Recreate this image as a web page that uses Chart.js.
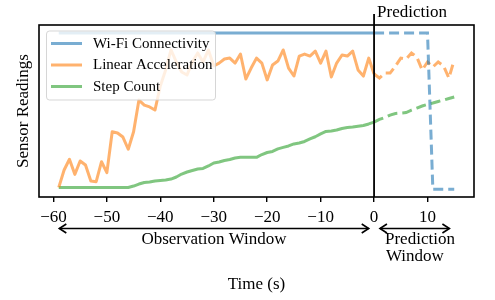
<!DOCTYPE html>
<html><head><meta charset="utf-8">
<script src="https://cdn.jsdelivr.net/npm/chart.js@4.4.0/dist/chart.umd.min.js"></script>
<style>html,body{margin:0;padding:0;background:#fff}canvas{display:block}</style>
</head><body>
<canvas id="c" width="495" height="300"></canvas>
<script>
// Time (s)
const obsTime = [-59,-58,-57,-56,-55,-54,-53,-52,-51,-50,-49,-48,-47,-46,-45,-44,-43,-42,-41,-40,-39,-38,-37,-36,-35,-34,-33,-32,-31,-30,-29,-28,-27,-26,-25,-24,-23,-22,-21,-20,-19,-18,-17,-16,-15,-14,-13,-12,-11,-10,-9,-8,-7,-6,-5,-4,-3,-2,-1,0];
const predTime = [0,1,2,3,4,5,6,7,8,9,10,11,12,13,14,15];

// Sensor readings (normalised 0-100)
const wifiObs = [100,100,100,100,100,100,100,100,100,100,100,100,100,100,100,100,100,100,100,100,100,100,100,100,100,100,100,100,100,100,100,100,100,100,100,100,100,100,100,100,100,100,100,100,100,100,100,100,100,100,100,100,100,100,100,100,100,100,100,100];
const wifiPred = [100,100,100,100,100,100,100,100,100,100,100,0,0,0,0,0];

const accObs = [1.2,12.3,19.2,9.5,18.1,15.5,5.3,4.8,17.6,10.6,36.8,36.0,33.4,25.6,36.8,57.1,53.9,52.7,50.7,66.1,76.4,89.2,81.5,75.1,73.2,81.5,87.3,81.5,89.2,78.9,80.8,83.4,84.0,80.8,86.6,70.6,77.6,84.0,80.8,70.0,79.6,82.1,89.2,77.6,72.5,85.3,86.6,85.3,88.5,80.8,88.5,71.9,80.8,86.0,85.3,88.5,76.4,72.5,84.0,73.8];
const accPred = [73.8,71.2,74.4,74.4,78.9,84.0,83.4,87.3,84.7,76.4,81.5,78.3,81.5,79.0,71.2,82.8];

const stepObs = [1.1,1.1,1.1,1.1,1.1,1.1,1.1,1.1,1.1,1.1,1.1,1.1,1.1,1.1,2.0,3.3,4.3,4.6,5.3,5.6,5.9,6.5,7.8,9.7,11.0,12.0,12.9,13.3,14.9,16.8,17.4,18.4,19.0,20.0,20.4,20.4,20.4,20.4,22.2,23.5,24.2,25.8,26.8,27.7,29.0,29.6,30.6,32.2,33.6,35.4,37.0,37.3,37.9,38.9,39.5,39.8,40.3,40.8,41.8,43.0];
const stepPred = [43.0,44.7,45.9,47.5,48.5,48.8,49.1,50.7,52.0,53.3,54.3,55.2,56.2,57.1,58.1,59.1];

const xTicks = [-60,-50,-40,-30,-20,-10,0,10];
const seriesNames = ['Wi-Fi Connectivity','Linear Acceleration','Step Count'];

const COLORS = ['rgba(31,119,180,0.6)','rgba(255,127,14,0.6)','rgba(44,160,44,0.6)'];
const FONT = '"Liberation Serif", "DejaVu Serif", serif';

function pts(xs, ys){ return xs.map((x,i)=>({x:x, y:ys[i]})); }

const obsSets = [wifiObs, accObs, stepObs];
const predSets = [wifiPred, accPred, stepPred];
const datasets = [];
for (let i=0;i<3;i++){
  datasets.push({label:seriesNames[i], data:pts(obsTime, obsSets[i]), borderColor:COLORS[i], borderWidth:3, pointRadius:0, tension:0, fill:false, borderCapStyle:'butt', borderJoinStyle:'round'});
}
for (let i=0;i<3;i++){
  datasets.push({label:seriesNames[i]+' (pred)', data:pts(predTime, predSets[i]), borderColor:COLORS[i], borderWidth:3, borderDash:[10,5], pointRadius:0, tension:0, fill:false, borderCapStyle:'butt'});
}

function arrowHead(ctx, x, y, dir){
  ctx.beginPath();
  ctx.moveTo(x - dir*7, y - 4.5);
  ctx.lineTo(x, y);
  ctx.lineTo(x - dir*7, y + 4.5);
  ctx.stroke();
}

const decor = {
  id:'decor',
  afterDatasetsDraw(chart){
    const ctx = chart.ctx, a = chart.chartArea, xs = chart.scales.x;
    ctx.save();
    // legend
    const lx=46.5, ly=31, lw=169, lh=69, r=3;
    ctx.beginPath();
    ctx.moveTo(lx+r,ly); ctx.lineTo(lx+lw-r,ly); ctx.quadraticCurveTo(lx+lw,ly,lx+lw,ly+r);
    ctx.lineTo(lx+lw,ly+lh-r); ctx.quadraticCurveTo(lx+lw,ly+lh,lx+lw-r,ly+lh);
    ctx.lineTo(lx+r,ly+lh); ctx.quadraticCurveTo(lx,ly+lh,lx,ly+lh-r);
    ctx.lineTo(lx,ly+r); ctx.quadraticCurveTo(lx,ly,lx+r,ly); ctx.closePath();
    ctx.fillStyle='rgba(255,255,255,0.8)'; ctx.fill();
    ctx.strokeStyle='rgba(204,204,204,0.8)'; ctx.lineWidth=1; ctx.stroke();
    ctx.font='15px '+FONT; ctx.textBaseline='middle'; ctx.textAlign='left'; ctx.fillStyle='#000';
    const rows=[43.5,65,86.5];
    for(let i=0;i<3;i++){
      ctx.strokeStyle=COLORS[i]; ctx.lineWidth=3; ctx.setLineDash([]);
      ctx.beginPath(); ctx.moveTo(51,rows[i]); ctx.lineTo(82,rows[i]); ctx.stroke();
      ctx.fillText(seriesNames[i], 93, rows[i]+0.5);
    }
    // frame
    ctx.strokeStyle='#000'; ctx.lineWidth=1.6;
    ctx.strokeRect(a.left, a.top, a.right-a.left, a.bottom-a.top);
    // vertical line at 0
    const x0 = xs.getPixelForValue(0);
    ctx.lineWidth=1.8;
    ctx.beginPath(); ctx.moveTo(x0, 14); ctx.lineTo(x0, a.bottom); ctx.stroke();
    ctx.fillStyle='#000'; ctx.font='17px '+FONT; ctx.textBaseline='alphabetic';
    ctx.fillText('Prediction', x0+3, 17);
    // arrows
    const ay = 228.5;
    ctx.lineWidth=1.6;
    const o1 = xs.getPixelForValue(-58.9), o2 = xs.getPixelForValue(-1.0);
    const p1 = xs.getPixelForValue(1.1), p2 = xs.getPixelForValue(14.1);
    ctx.beginPath(); ctx.moveTo(o1,ay); ctx.lineTo(o2,ay); ctx.moveTo(p1,ay); ctx.lineTo(p2,ay); ctx.stroke();
    arrowHead(ctx,o1,ay,-1); arrowHead(ctx,o2,ay,1); arrowHead(ctx,p1,ay,-1); arrowHead(ctx,p2,ay,1);
    ctx.textAlign='center';
    ctx.fillText('Observation Window', (o1+o2)/2, 244);
    ctx.textAlign='left';
    ctx.fillText('Prediction', 385, 244);
    ctx.fillText('Window', 386, 260.5);
    ctx.restore();
  }
};

new Chart(document.getElementById('c'), {
  type:'line',
  data:{datasets:datasets},
  options:{
    responsive:false, animation:false, devicePixelRatio:1,
    layout:{padding:{left:0,right:21,top:25,bottom:0}},
    plugins:{legend:{display:false}, tooltip:{enabled:false}},
    scales:{
      x:{type:'linear', min:-62.7, max:18.7,
        afterBuildTicks(s){ s.ticks = xTicks.map(v=>({value:v})); },
        afterFit(s){ s.height = 103; },
        border:{display:false},
        grid:{drawOnChartArea:false, drawTicks:true, tickLength:5, color:'#000', lineWidth:1.4},
        ticks:{color:'#000', padding:5, font:{family:FONT, size:17}, maxRotation:0,
          callback:(v)=> (v<0 ? '\u2212'+Math.abs(v) : String(v))},
        title:{display:true, text:'Time (s)', color:'#000', font:{family:FONT, size:17}, padding:{top:0,bottom:5}}
      },
      y:{min:-5, max:105.2,
        afterFit(s){ s.width = 39; },
        border:{display:false},
        grid:{display:false},
        ticks:{display:false},
        title:{display:true, text:'Sensor Readings', color:'#000', font:{family:FONT, size:17}, padding:{top:13,bottom:0}}
      }
    }
  },
  plugins:[decor]
});
</script>
</body></html>
